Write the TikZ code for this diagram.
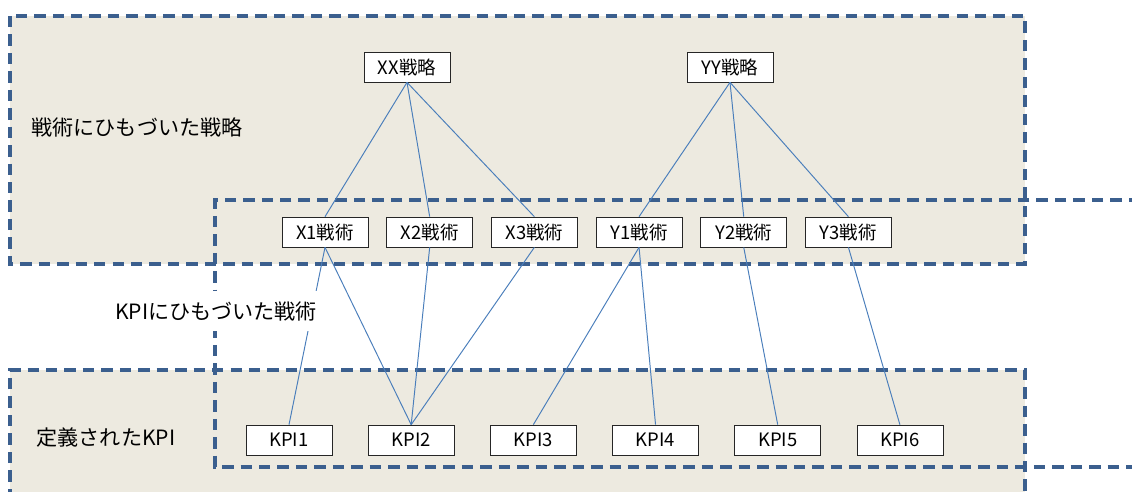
\documentclass[tikz,border=0pt]{standalone}
\usepackage{fontspec}
\setmainfont{Noto Sans CJK JP}
\usepackage{xcolor}
\usepackage{tikz}
\usetikzlibrary{positioning}
\definecolor{zoneblue}{RGB}{59,95,142}
\definecolor{zonefill}{RGB}{237,234,224}
\definecolor{linkblue}{RGB}{74,126,187}
\tikzset{
    zone/.style={draw=zoneblue, line width=2pt, dash pattern=on 6.5pt off 4pt},
    item/.style={rectangle, draw=black!85, thin, fill=white, minimum width=1.72cm, minimum height=0.6cm, inner sep=0pt, font=\fontsize{10.5}{12}\selectfont},
    link/.style={draw=linkblue, line width=0.55pt},
    zonelabel/.style={font=\fontsize{12}{14}\selectfont, inner sep=1pt}
}
\begin{document}
\begin{tikzpicture}[x=0.02cm, y=-0.02cm]
        \useasboundingbox (0,0) rectangle (1132,491);

        % Zones
        \fill[zonefill] (10,16) rectangle (1025,264);
        \fill[zonefill] (10,370) rectangle (1025,500);
        \draw[zone] (10,16) rectangle (1025,264);
        \draw[zone] (10,500) -- (10,370) -- (1025,370) -- (1025,500);
        \draw[zone] (1140,200) -- (215,200) -- (215,467) -- (1140,467);

        % Strategies
        \node[item] (XX) at (407,67) {XX戦略};
        \node[item] (YY) at (730,67) {YY戦略};

        % Tactics
        \node[item] (X1) at (325,232) {X1戦術};
        \node[item, right=0.36cm of X1] (X2) {X2戦術};
        \node[item, right=0.36cm of X2] (X3) {X3戦術};
        \node[item, right=0.36cm of X3] (Y1) {Y1戦術};
        \node[item, right=0.36cm of Y1] (Y2) {Y2戦術};
        \node[item, right=0.36cm of Y2] (Y3) {Y3戦術};

        % KPIs
        \node[item] (KPI1) at (289,440) {KPI1};
        \node[item, right=0.71cm of KPI1] (KPI2) {KPI2};
        \node[item, right=0.71cm of KPI2] (KPI3) {KPI3};
        \node[item, right=0.71cm of KPI3] (KPI4) {KPI4};
        \node[item, right=0.71cm of KPI4] (KPI5) {KPI5};
        \node[item, right=0.71cm of KPI5] (KPI6) {KPI6};

        % Links
        \foreach \t in {X1, X2, X3} \draw[link] (XX.south) -- (\t.north);
        \foreach \t in {Y1, Y2, Y3} \draw[link] (YY.south) -- (\t.north);
        \foreach \s/\t in {X1/KPI1, X1/KPI2, X2/KPI2, X3/KPI2, Y1/KPI3, Y1/KPI4, Y2/KPI5, Y3/KPI6}
            \draw[link] (\s.south) -- (\t.north);

        % Zone labels
        \node[zonelabel] (lblStrategy) at (137,127) {戦術にひもづいた戦略};
        \node[zonelabel, fill=white, minimum width=4.25cm, minimum height=0.8cm] (lblTactic) at (216,311) {KPIにひもづいた戦術};
        \node[zonelabel] (lblKPI) at (106,438) {定義されたKPI};
    \end{tikzpicture}
\end{document}
